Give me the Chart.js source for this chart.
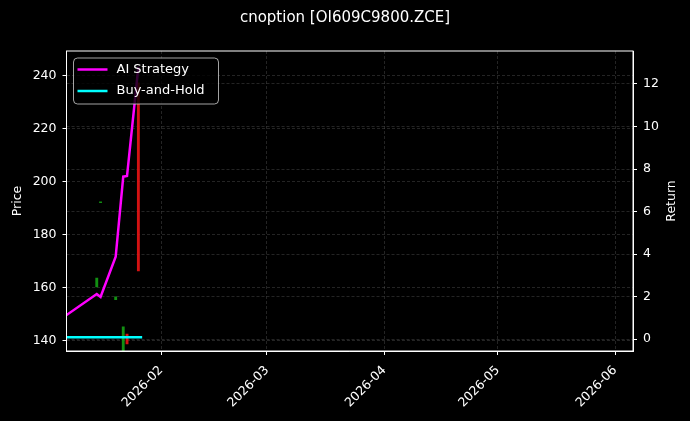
<!DOCTYPE html>
<html>
<head>
	<meta charset="utf-8">
	<title>cnoption chart</title>
	<script src="https://cdn.jsdelivr.net/npm/chart.js@4.4.1/dist/chart.umd.min.js"></script>
	<style>
		body { margin: 0; background: #000; }
	</style>
</head>
<body>
	<canvas id="canvas" width="690" height="421"></canvas>
	<script>
		// month ticks on the date axis
		var monthTicks = ["2026-02-01", "2026-03-01", "2026-04-01", "2026-05-01", "2026-06-01"];
		var xRange = ["2026-01-07", "2026-06-05"];

		// daily candles (price, left axis)
		var candleDates = ["2026-01-15", "2026-01-16", "2026-01-20", "2026-01-22", "2026-01-23", "2026-01-26"];
		var candleOpen  = [160.4, 192.2, 155.6, 134.0, 142.6, 237.4];
		var candleClose = [163.7, 192.5, 156.6, 145.3, 138.9, 166.4];

		// cumulative returns (right axis)
		var returnDates = ["2026-01-07", "2026-01-15", "2026-01-16", "2026-01-20", "2026-01-22", "2026-01-23", "2026-01-26"];
		var aiReturn    = [1.13, 2.12, 1.98, 3.87, 7.64, 7.67, 12.8];
		var bhDates     = ["2026-01-07", "2026-01-15", "2026-01-16", "2026-01-20", "2026-01-22", "2026-01-23", "2026-01-26", "2026-01-27"];
		var bhReturn    = [0.09, 0.09, 0.09, 0.09, 0.09, 0.09, 0.09, 0.09];

		var priceTicks  = [140, 160, 180, 200, 220, 240];
		var returnTicks = [0, 2, 4, 6, 8, 10, 12];

		var DAY0 = Date.UTC(2026, 0, 1);
		function day(s) {
			return (Date.parse(s + "T00:00:00Z") - DAY0) / 864e5;
		}
		function dayLabel(v) {
			return new Date(DAY0 + v * 864e5).toISOString().slice(0, 7);
		}

		var candleData = candleDates.map(function(d, i) {
			return { x: day(d), y: [candleOpen[i], candleClose[i]] };
		});
		var candleColors = candleDates.map(function(d, i) {
			return candleClose[i] >= candleOpen[i] ? "rgba(20,160,20,0.9)" : "rgba(235,20,20,0.9)";
		});
		var aiData = returnDates.map(function(d, i) { return { x: day(d), y: aiReturn[i] }; });
		var bhData = bhDates.map(function(d, i) { return { x: day(d), y: bhReturn[i] }; });

		Chart.defaults.font.family = "'DejaVu Sans', sans-serif";
		Chart.defaults.font.size = 12.5;
		Chart.defaults.color = "#ffffff";

		var gridGrey = "rgba(110,110,110,0.55)";

		// box round the axes (Chart.js has no top border)
		var frame = {
			id: "frame",
			afterDatasetsDraw: function(chart) {
				var a = chart.chartArea, ctx = chart.ctx;
				ctx.save();
				ctx.strokeStyle = "#ffffff";
				ctx.lineWidth = 1;
				ctx.strokeRect(a.left, a.top, a.right - a.left, a.bottom - a.top);
				ctx.restore();
			}
		};

		// right axis label, read bottom to top like the left one
		var rightTitle = {
			id: "rightTitle",
			afterDraw: function(chart) {
				var a = chart.chartArea, ctx = chart.ctx;
				ctx.save();
				ctx.translate(672, (a.top + a.bottom) / 2);
				ctx.rotate(-Math.PI / 2);
				ctx.fillStyle = "#ffffff";
				ctx.font = "12.5px 'DejaVu Sans'";
				ctx.textAlign = "center";
				ctx.textBaseline = "middle";
				ctx.fillText("Return", 0, 0);
				ctx.restore();
			}
		};

		// matplotlib style legend in the upper left
		var boxLegend = {
			id: "boxLegend",
			afterDraw: function(chart) {
				var a = chart.chartArea, ctx = chart.ctx;
				var x = a.left + 7, y = a.top + 7, w = 145, h = 46, r = 4;
				ctx.save();
				ctx.beginPath();
				ctx.roundRect(x, y, w, h, r);
				ctx.fillStyle = "rgba(0,0,0,0.8)";
				ctx.fill();
				ctx.strokeStyle = "rgba(204,204,204,0.8)";
				ctx.lineWidth = 1;
				ctx.stroke();
				var items = chart.data.datasets.filter(function(ds) { return ds.type === "line"; });
				items.forEach(function(ds, i) {
					var yy = y + 11.5 + i * 21.5;
					ctx.strokeStyle = ds.borderColor;
					ctx.lineWidth = 2.5;
					ctx.beginPath();
					ctx.moveTo(x + 4, yy);
					ctx.lineTo(x + 34, yy);
					ctx.stroke();
					ctx.fillStyle = "#ffffff";
					ctx.font = "13px 'DejaVu Sans'";
					ctx.textBaseline = "middle";
					ctx.fillText(ds.label, x + 43, yy);
				});
				ctx.restore();
			}
		};

		var gridOpts = {
			color: gridGrey,
			lineWidth: 0.6,
			offset: false,
			tickLength: 4,
			tickColor: "#ffffff",
			tickWidth: 1
		};

		new Chart(document.getElementById("canvas").getContext("2d"), {
			type: "bar",
			data: {
				datasets: [
					{
						type: "line",
						label: "AI Strategy",
						data: aiData,
						yAxisID: "yRet",
						borderColor: "#ff00ff",
						borderWidth: 2.5,
						pointRadius: 0,
						tension: 0,
						order: 1
					},
					{
						type: "line",
						label: "Buy-and-Hold",
						data: bhData,
						yAxisID: "yRet",
						borderColor: "#00ffff",
						borderWidth: 2.5,
						pointRadius: 0,
						tension: 0,
						order: 1
					},
					{
						type: "bar",
						label: "Price",
						data: candleData,
						yAxisID: "y",
						backgroundColor: candleColors,
						borderWidth: 0,
						barThickness: 2.2,
						order: 2
					}
				]
			},
			options: {
				responsive: false,
				animation: false,
				layout: { padding: 0 },
				plugins: {
					legend: { display: false },
					tooltip: { enabled: false },
					title: {
						display: true,
						text: "cnoption [OI609C9800.ZCE]",
						color: "#ffffff",
						font: { size: 15, weight: "normal" },
						padding: { top: 9, bottom: 24 }
					}
				},
				scales: {
					x: {
						type: "linear",
						offset: false,
						min: day(xRange[0]),
						max: day(xRange[1]) + 0.75,
						afterBuildTicks: function(s) {
							s.ticks = monthTicks.map(function(m) { return { value: day(m) }; });
						},
						afterFit: function(s) { s.height = 70; },
						ticks: {
							minRotation: 45,
							maxRotation: 45,
							padding: 8,
							callback: function(v) { return dayLabel(v); }
						},
						grid: gridOpts,
						border: { color: "#ffffff", dash: [3, 2] }
					},
					y: {
						type: "linear",
						position: "left",
						min: 136.2,
						max: 249.4,
						afterBuildTicks: function(s) {
							s.ticks = priceTicks.map(function(v) { return { value: v }; });
						},
						afterFit: function(s) { s.width = 66.5; },
						title: { display: true, text: "Price", padding: { top: 10, bottom: 0 } },
						ticks: { padding: 6 },
						grid: gridOpts,
						border: { color: "#ffffff", dash: [3, 2] }
					},
					yRet: {
						type: "linear",
						position: "right",
						min: -0.56,
						max: 13.55,
						afterBuildTicks: function(s) {
							s.ticks = returnTicks.map(function(v) { return { value: v }; });
						},
						afterFit: function(s) { s.width = 57; },
						ticks: { padding: 6 },
						grid: gridOpts,
						border: { color: "#ffffff", dash: [3, 2] }
					}
				}
			},
			plugins: [frame, rightTitle, boxLegend]
		});
	</script>
</body>
</html>
